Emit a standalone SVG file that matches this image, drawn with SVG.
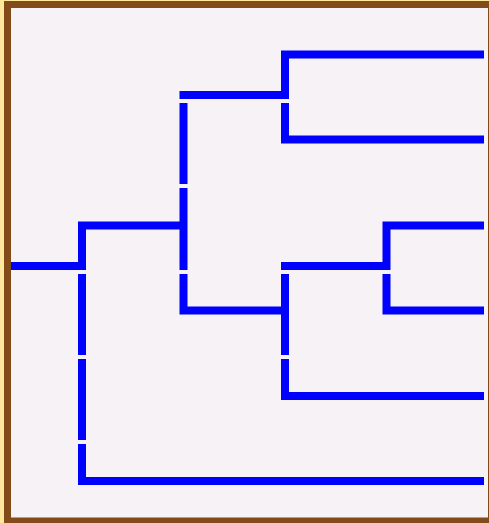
<svg xmlns="http://www.w3.org/2000/svg" width="489" height="523" viewBox="0 0 489 523">
<style>
.bg{fill:#ffe89e}
.panel{fill:#f6f2f6}
.frame{fill:none;stroke:#834b1a;stroke-width:7}
.link{fill:none;stroke:#0000ff;stroke-width:8;stroke-linecap:butt;stroke-linejoin:miter}
</style>
<rect class="bg" x="0" y="0" width="489" height="523"/>
<rect class="panel" x="7.5" y="4.5" width="484" height="516.5"/>
<g id="connectors">
<path class="link" d="M11,266 H82"/>
<path class="link" d="M82,270 V225.5 H183.5"/>
<path class="link" d="M82,274 V355"/>
<path class="link" d="M82,359 V440"/>
<path class="link" d="M82,444 V481 H484"/>
<path class="link" d="M179.5,95 H285 V54.5 H484"/>
<path class="link" d="M285,103 V139.5 H484"/>
<path class="link" d="M183.5,103 V184"/>
<path class="link" d="M183.5,188 V270"/>
<path class="link" d="M183.5,274 V310.5 H285"/>
<path class="link" d="M281,266 H386.5 V225.5 H484"/>
<path class="link" d="M285,274 V355"/>
<path class="link" d="M285,359 V396 H484"/>
<path class="link" d="M386.5,274 V310.5 H484"/>
</g>
<rect class="frame" x="7.5" y="4.5" width="484" height="516.5"/>
</svg>
